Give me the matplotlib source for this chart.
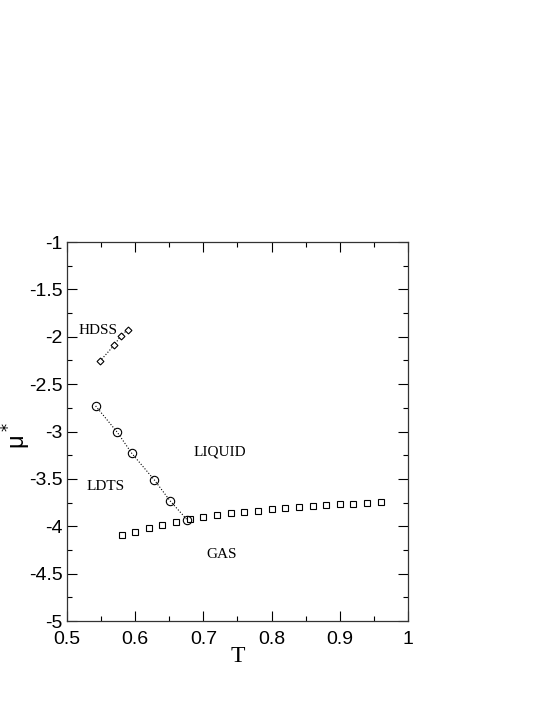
import matplotlib.pyplot as plt
from matplotlib.ticker import MultipleLocator

# HDSS coexistence (diamonds)
t_hdss = [0.548, 0.569, 0.579, 0.589]
mu_hdss = [-2.26, -2.09, -1.99, -1.925]

# LDTS coexistence (circles)
t_ldts = [0.542, 0.574, 0.595, 0.628, 0.651, 0.676]
mu_ldts = [-2.73, -3.01, -3.23, -3.51, -3.73, -3.93]

# liquid-gas (squares)
t_lg = [0.58, 0.60, 0.62, 0.64, 0.66, 0.68, 0.70, 0.72, 0.74, 0.76,
        0.78, 0.80, 0.82, 0.84, 0.86, 0.88, 0.90, 0.92, 0.94, 0.96]
mu_lg = [-4.09, -4.065, -4.015, -3.99, -3.96, -3.925, -3.905, -3.885, -3.865, -3.85,
         -3.835, -3.822, -3.812, -3.80, -3.789, -3.779, -3.768, -3.762, -3.755, -3.747]

labels = ["HDSS", "LDTS", "LIQUID", "GAS"]
label_pos = [(0.545, -1.93), (0.556, -3.58), (0.724, -3.22), (0.727, -4.3)]

fig = plt.figure(figsize=(5.45, 7.05), dpi=100)
ax = fig.add_axes([0.1229, 0.1191, 0.6257, 0.5376])

ax.plot(t_hdss, mu_hdss, color="black", linestyle=":", linewidth=0.8,
        marker="D", markersize=3.5, markerfacecolor="white", markeredgewidth=0.8)
ax.plot(t_ldts, mu_ldts, color="black", linestyle=":", linewidth=0.8,
        marker="o", markersize=6, markerfacecolor="none", markeredgewidth=0.8)
ax.plot(t_lg, mu_lg, color="black", linestyle="none",
        marker="s", markersize=4.5, markerfacecolor="none", markeredgewidth=0.8)

for text, (x, y) in zip(labels, label_pos):
    ax.text(x, y, text, family="Liberation Serif", fontsize=11, ha="center", va="center")

ax.set_xlim(0.5, 1.0)
ax.set_ylim(-5, -1)
ax.xaxis.set_minor_locator(MultipleLocator(0.05))
ax.yaxis.set_minor_locator(MultipleLocator(0.25))
ax.set_xticks([0.5, 0.6, 0.7, 0.8, 0.9, 1.0])
ax.set_xticklabels(["0.5", "0.6", "0.7", "0.8", "0.9", "1"])
ax.set_yticks([-5, -4.5, -4, -3.5, -3, -2.5, -2, -1.5, -1])
ax.set_yticklabels(["-5", "-4.5", "-4", "-3.5", "-3", "-2.5", "-2", "-1.5", "-1"])

ax.tick_params(which="both", direction="in", top=True, right=True, labelsize=14)
ax.tick_params(axis="x", which="major", pad=7)
ax.tick_params(axis="y", which="major", pad=3)
ax.tick_params(which="major", length=7, width=0.8)
ax.tick_params(which="minor", length=3.5, width=0.8)
for lab in ax.get_xticklabels() + ax.get_yticklabels():
    lab.set_family("Liberation Sans")
for s in ax.spines.values():
    s.set_linewidth(0.9)
    s.set_color("#333333")

ax.set_xlabel("T", family="Liberation Serif", fontsize=17, labelpad=-1)
ax.set_ylabel("μ$^*$", family="Liberation Sans", fontsize=17)
ax.yaxis.set_label_coords(-0.10, 0.49)

fig.savefig("out.png", dpi=100)
